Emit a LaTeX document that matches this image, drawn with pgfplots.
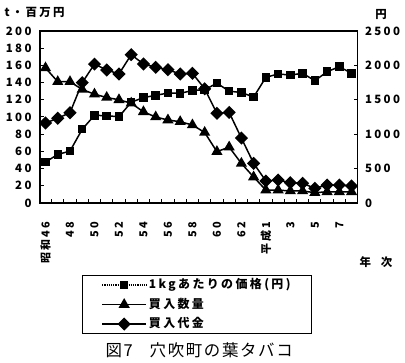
\documentclass[border=0pt]{standalone}
\usepackage{pgfplots}
\usepackage{pgfplotstable}
\pgfplotsset{compat=1.18}
\usepackage{fontspec}
\setmainfont{Noto Sans CJK JP}
\newfontfamily\tf[LetterSpace=20]{Noto Sans CJK JP}
\newfontfamily\capf[LetterSpace=10]{Noto Sans CJK JP}

\pgfplotstableread{
i qty amt price
0 157 93 596
1 141 98.5 705
2 141 105 755
3 132 140 1072
4 126.5 161.5 1275
5 122.7 154.7 1268
6 120 150 1254
7 116 172.5 1465
8 106 161.6 1532
9 100 157.8 1565
10 96.5 155 1598
11 94.5 150 1594
12 90.7 150.8 1635
13 82 132.8 1645
14 59.7 104.3 1742
15 65 105.3 1625
16 46 75.5 1606
17 30.2 46.1 1540
18 15 25.6 1827
19 15 26.7 1875
20 14 23.6 1860
21 14 22.9 1885
22 12 17.1 1778
23 13 20.9 1908
24 13 20.9 1981
25 13 19.8 1885
}\datatab

\pgfplotsset{
  common/.style={
    at={(40bp,160bp)}, anchor=south west, scale only axis,
    width=317.7bp, height=172bp,
    xmin=-0.45, xmax=25.5,
    axis line style={line width=1.4bp},
    tick style={line width=1bp, black},
    tick align=inside, major tick length=4bp, minor tick length=4bp,
    /pgf/number format/assume math mode=true,
    /pgf/number format/1000 sep={},
    scaled ticks=false,
    yticklabel style={font=\tf\bfseries\fontsize{11.5}{12}\selectfont},
  },
  qtystyle/.style={black, line width=1.5bp, mark=triangle*, mark size=5bp, mark options={solid}},
  amtstyle/.style={black, line width=1.5bp, mark=square*, mark size=3.9bp, mark options={solid, rotate=45}},
  pricestyle/.style={black, line width=1.5bp, mark=square*, mark size=3.5bp, mark options={solid}},
}

\begin{document}
\begin{tikzpicture}
\path[use as bounding box] (0,0) rectangle (405bp,363bp);

\begin{axis}[common,
  ymin=0, ymax=200, ytick={0,20,...,200}, ytick pos=left,
  yticklabel style={xshift=-5bp},
  xtick={0.5,1.5,...,24.5}, xticklabels={}, xtick pos=bottom,
  extra x ticks={0,2,...,24},
  extra x tick labels={昭和46,48,50,52,54,56,58,60,62,平成1,3,5,7},
  extra x tick style={tick style={draw=none},
    xticklabel style={yshift=-15bp, rotate=90, anchor=east,
      font=\tf\bfseries\fontsize{11}{11}\selectfont}},
]
\addplot[qtystyle] table[x=i, y=qty] {\datatab};
\addplot[amtstyle] table[x=i, y=amt] {\datatab};
\end{axis}

\begin{axis}[common,
  ymin=0, ymax=2500, ytick={0,500,...,2500},
  axis y line*=right, axis x line=none,
  yticklabel style={xshift=4bp},
  legend image code/.code={\draw[mark repeat=2, mark phase=2] plot coordinates {(0bp,0bp) (22bp,0bp) (44bp,0bp)};},
  legend style={at={(axis description cs:0.132,-0.419)}, anchor=north west,
    draw=black, line width=1bp, inner xsep=19bp, inner ysep=3bp,
    font=\tf\bfseries\fontsize{12}{12}\selectfont,
    row sep=6.5bp,
    nodes={text height=10bp, text depth=3bp, inner xsep=2bp, inner ysep=0bp},
    cells={anchor=west}},
  legend cell align=left,
]
\addplot[pricestyle, legend image code/.code={
   \draw[densely dotted, line width=1.2bp] (0bp,0bp) -- (44bp,0bp);
   \draw[fill=black, solid] (22bp,0bp) +(-3.5bp,-3.5bp) rectangle +(3.5bp,3.5bp);}]
   table[x=i, y=price] {\datatab};
\addlegendentry{1kgあたりの価格(円)}
\addlegendimage{qtystyle}
\addlegendentry{買入数量}
\addlegendimage{amtstyle}
\addlegendentry{買入代金}
\end{axis}

\node[anchor=west, font=\tf\bfseries\fontsize{11.5}{12}\selectfont] at (1bp,351bp) {t・百万円};
\node[font=\tf\bfseries\fontsize{11.5}{12}\selectfont] at (381bp,349bp) {円};
\node[anchor=west, font=\tf\bfseries\fontsize{11.5}{12}\selectfont] at (356bp,101bp) {年\hspace{10bp}次};
\node[anchor=west, font=\capf\fontsize{16.5}{17}\selectfont] at (102bp,13bp) {図7\hspace{17bp}穴吹町の葉タバコ};
\end{tikzpicture}
\end{document}
